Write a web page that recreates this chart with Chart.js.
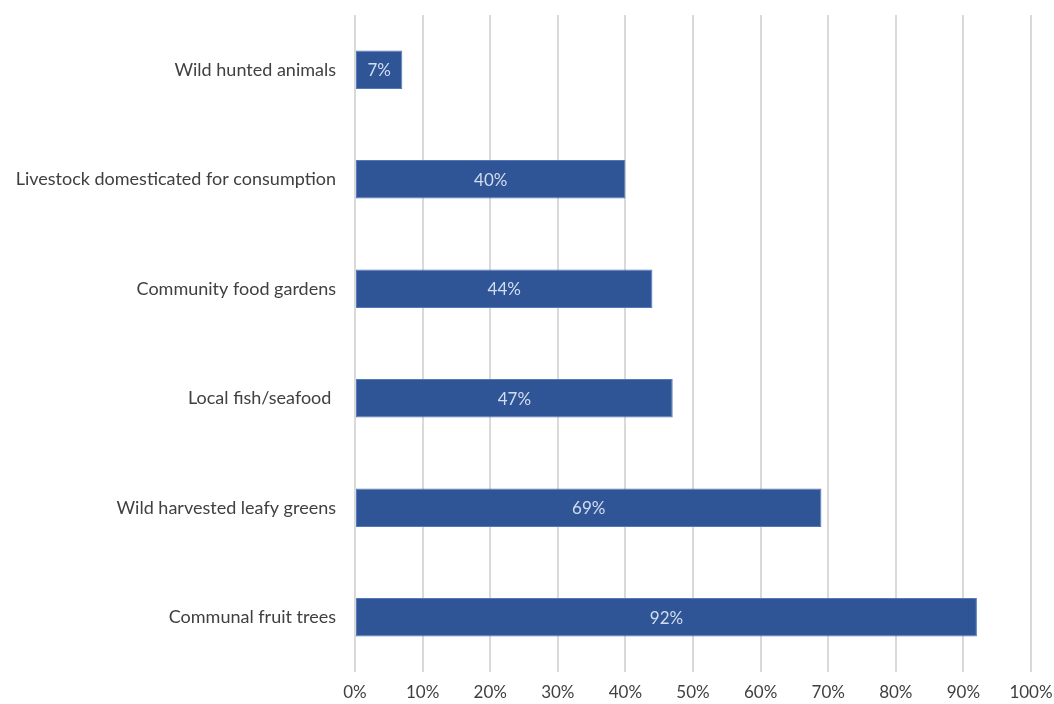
<!DOCTYPE html>
<html>
<head>
<meta charset="utf-8">
<script src="https://cdn.jsdelivr.net/npm/chart.js@4"></script>
<style>
  html, body { margin: 0; padding: 0; background: #fff; }
  #wrap { width: 1054px; height: 704px; }
</style>
</head>
<body>
<div id="wrap"><canvas id="sources"></canvas></div>
<script>
const categories = [
    'Wild hunted animals',
    'Livestock domesticated for consumption',
    'Community food gardens',
    'Local fish/seafood ',
    'Wild harvested leafy greens',
    'Communal fruit trees'
];
const percentages = [7, 40, 44, 47, 69, 92];
const tickValues = [0, 10, 20, 30, 40, 50, 60, 70, 80, 90, 100];

const FONT = 'Lato, "Open Sans", sans-serif';

// writes the value in the middle of each bar
const barLabels = {
    id: 'barLabels',
    afterDatasetsDraw(chart) {
        const ctx = chart.ctx;
        const meta = chart.getDatasetMeta(0);
        ctx.save();
        ctx.font = '17px ' + FONT;
        ctx.fillStyle = '#d3ddf0';
        ctx.textAlign = 'center';
        ctx.textBaseline = 'middle';
        meta.data.forEach((bar, i) => {
            const x = (bar.base + bar.x) / 2;
            ctx.fillText(percentages[i] + '%', x, bar.y + 1);
        });
        ctx.restore();
    }
};

new Chart(document.getElementById('sources'), {
    type: 'bar',
    data: {
        labels: categories,
        datasets: [{
            data: percentages,
            backgroundColor: '#2f5597',
            borderColor: '#5479bb',
            borderWidth: 1,
            borderSkipped: false,
            barPercentage: 0.35,
            categoryPercentage: 1
        }]
    },
    options: {
        indexAxis: 'y',
        responsive: true,
        maintainAspectRatio: false,
        animation: false,
        layout: { padding: { top: 15, right: 23, left: 0, bottom: 0 } },
        scales: {
            x: {
                min: 0,
                max: 100,
                afterBuildTicks: scale => {
                    scale.ticks = tickValues.map(v => ({ value: v }));
                },
                afterFit: scale => {
                    scale.height = 32;
                    scale.paddingLeft = 0;
                    scale.paddingRight = 0;
                },
                grid: { color: '#d9d9d9', lineWidth: 2, drawTicks: false },
                border: { display: false },
                ticks: {
                    padding: 10,
                    color: '#404040',
                    font: { family: FONT, size: 17 },
                    callback: v => v + '%'
                }
            },
            y: {
                afterFit: scale => {
                    scale.width = 355;
                    scale.paddingTop = 0;
                    scale.paddingBottom = 0;
                },
                grid: { display: false },
                border: { display: false },
                ticks: {
                    padding: 11,
                    color: '#404040',
                    font: { family: FONT, size: 18 }
                }
            }
        },
        plugins: {
            legend: { display: false },
            tooltip: { enabled: false }
        }
    },
    plugins: [barLabels]
});
</script>
</body>
</html>
